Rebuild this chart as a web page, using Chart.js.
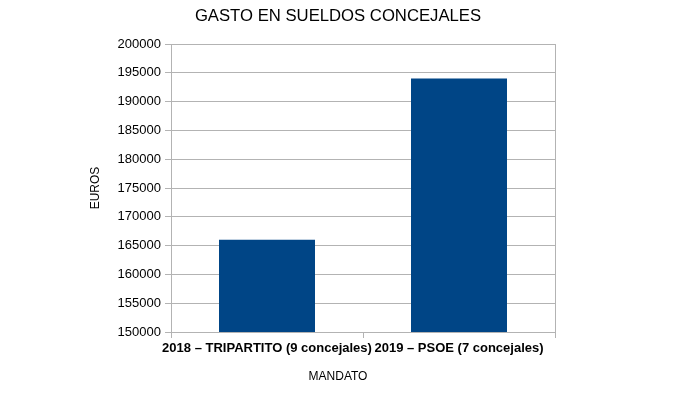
<!DOCTYPE html>
<html>
<head>
<meta charset="utf-8">
<script src="https://cdn.jsdelivr.net/npm/chart.js@4"></script>
<style>
  html, body { margin: 0; padding: 0; background: #fff; }
  #wrap { width: 676px; height: 410px; }
</style>
</head>
<body>
<div id="wrap"><canvas id="grafica" width="676" height="410"></canvas></div>
<script>
// Datos del gráfico
var categorias = ['2018 – TRIPARTITO (9 concejales)', '2019 – PSOE (7 concejales)'];
var gasto = [166000, 194000];
var ejeMin = 150000;
var ejeMax = 200000;
var paso = 5000;

var gris = '#b3b3b3';
Chart.defaults.font.family = '"Liberation Sans", Arial, sans-serif';
Chart.defaults.color = '#000';

var ctx = document.getElementById('grafica').getContext('2d');
var myChart = new Chart(ctx, {
    type: 'bar',
    data: {
        labels: categorias,
        datasets: [{
            label: 'Gasto',
            data: gasto,
            backgroundColor: '#004586',
            borderWidth: 0,
            barPercentage: 0.5,
            categoryPercentage: 1
        }]
    },
    options: {
        responsive: false,
        animation: false,
        layout: { padding: { left: 0, right: 0, top: 0, bottom: 26 } },
        plugins: {
            legend: { display: false },
            tooltip: { enabled: false },
            title: {
                display: true,
                text: 'GASTO EN SUELDOS CONCEJALES',
                color: '#000',
                font: { size: 16.7, weight: 'normal' },
                padding: { top: 6, bottom: 18 }
            },
            subtitle: {
                display: true,
                position: 'bottom',
                text: 'MANDATO',
                color: '#000',
                font: { size: 12 },
                padding: { top: 10, bottom: 0 }
            }
        },
        scales: {
            x: {
                grid: {
                    offset: true,
                    color: function (c) { return c.index === 1 ? 'rgba(0,0,0,0)' : gris; },
                    tickColor: gris,
                    tickLength: 6
                },
                border: { color: gris },
                ticks: {
                    autoSkip: false,
                    maxRotation: 0,
                    minRotation: 0,
                    padding: 3,
                    color: '#000',
                    font: { size: 13, weight: 'bold' }
                }
            },
            y: {
                min: ejeMin,
                max: ejeMax,
                grid: { color: gris, tickLength: 6 },
                border: { color: gris },
                ticks: {
                    stepSize: paso,
                    padding: 4,
                    color: '#000',
                    font: { size: 13 },
                    callback: function (v) { return String(v); }
                },
                title: {
                    display: true,
                    text: 'EUROS',
                    color: '#000',
                    font: { size: 12 },
                    padding: { top: 88, bottom: 0 }
                },
                afterFit: function (s) { s.width = 171; }
            },
            yr: {
                position: 'right',
                display: true,
                grid: { display: false },
                border: { display: false },
                ticks: { display: false },
                afterFit: function (s) { s.width = 121; }
            }
        }
    }
});
</script>
</body>
</html>
